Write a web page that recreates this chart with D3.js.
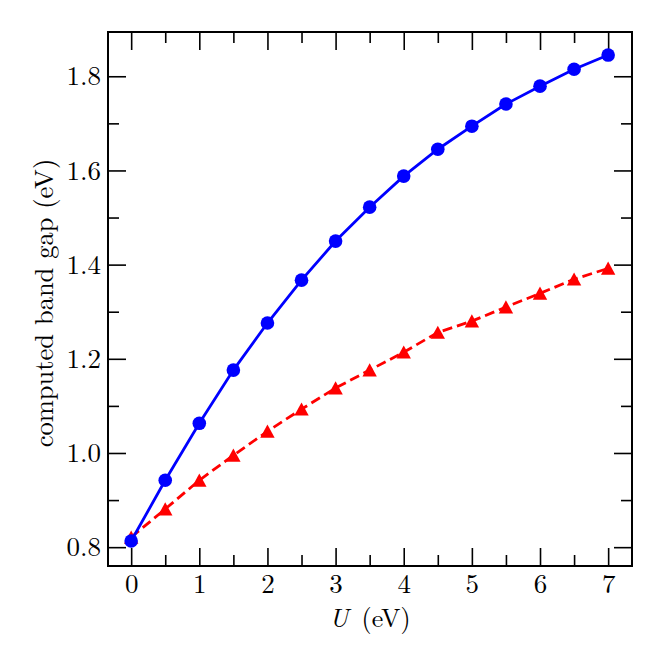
<!DOCTYPE html>
<html>
<head>
<meta charset="utf-8">
<script src="https://cdn.jsdelivr.net/npm/d3@7"></script>
<style>
  body { margin: 0; background: #fff; }
</style>
</head>
<body>
<div id="chart"></div>
<script>
const uValues = [0, 0.5, 1, 1.5, 2, 2.5, 3, 3.5, 4, 4.5, 5, 5.5, 6, 6.5, 7];
const gapCircles = [0.813, 0.942, 1.063, 1.176, 1.276, 1.367, 1.45, 1.522, 1.588, 1.645, 1.694, 1.741, 1.779, 1.815, 1.845];
const gapTriangles = [0.821, 0.881, 0.942, 0.995, 1.046, 1.093, 1.138, 1.176, 1.214, 1.256, 1.28, 1.31, 1.339, 1.369, 1.392];
const xTicks = [0, 1, 2, 3, 4, 5, 6, 7];
const xMinor = [0.5, 1.5, 2.5, 3.5, 4.5, 5.5, 6.5];
const yTicks = [0.8, 1.0, 1.2, 1.4, 1.6, 1.8];
const yMinor = [0.9, 1.1, 1.3, 1.5, 1.7];

const font = "'Latin Modern Roman', 'CMU Serif', 'Liberation Serif', serif";

let margin = {left: 108, right: 32, top: 32, bottom: 98};
let width = 664 - margin.left - margin.right,
    height = 664 - margin.top - margin.bottom;

let svg = d3.select("#chart")
    .append("svg")
    .attr("width", 664)
    .attr("height", 664);

let g = svg.append("g")
    .attr("transform", "translate(" + margin.left + ", " + margin.top + ")");

let x = d3.scaleLinear()
    .domain([-0.34, 7.35])
    .range([0, width]);

let y = d3.scaleLinear()
    .domain([0.76, 1.894])
    .range([height, 0]);

// inward ticks on all four sides
const major = 18, minor = 11;

let styleAxis = (sel) => {
    sel.attr("font-size", null).attr("font-family", null);
    sel.select(".domain").remove();
    sel.selectAll("line").attr("stroke", "#000").attr("stroke-width", 1.6);
    sel.selectAll("text")
        .style("font-family", font)
        .style("font-size", "27px")
        .attr("fill", "#000");
};

g.append("g")
    .attr("transform", "translate(0," + height + ")")
    .call(d3.axisBottom(x).tickValues(xTicks).tickSize(-major).tickPadding(8).tickFormat(d3.format("d")))
    .call(styleAxis);
g.append("g")
    .attr("transform", "translate(0," + height + ")")
    .call(d3.axisBottom(x).tickValues(xMinor).tickSize(-minor).tickFormat(""))
    .call(styleAxis);
g.append("g")
    .call(d3.axisTop(x).tickValues(xTicks).tickSize(-major).tickFormat(""))
    .call(styleAxis);
g.append("g")
    .call(d3.axisTop(x).tickValues(xMinor).tickSize(-minor).tickFormat(""))
    .call(styleAxis);

g.append("g")
    .call(d3.axisLeft(y).tickValues(yTicks).tickSize(-major).tickPadding(7).tickFormat(d3.format(".1f")))
    .call(styleAxis);
g.append("g")
    .call(d3.axisLeft(y).tickValues(yMinor).tickSize(-minor).tickFormat(""))
    .call(styleAxis);
g.append("g")
    .attr("transform", "translate(" + width + ",0)")
    .call(d3.axisRight(y).tickValues(yTicks).tickSize(-major).tickFormat(""))
    .call(styleAxis);
g.append("g")
    .attr("transform", "translate(" + width + ",0)")
    .call(d3.axisRight(y).tickValues(yMinor).tickSize(-minor).tickFormat(""))
    .call(styleAxis);

g.append("rect")
    .attr("width", width)
    .attr("height", height)
    .attr("fill", "none")
    .attr("stroke", "#000")
    .attr("stroke-width", 2);

let line = (vals) => d3.line()
    .x((d, i) => x(uValues[i]))
    .y(d => y(d))(vals);

// red dashed series with triangles
g.append("path")
    .attr("d", line(gapTriangles))
    .attr("fill", "none")
    .attr("stroke", "#ff0000")
    .attr("stroke-width", 2.8)
    .attr("stroke-dasharray", "10,5");

g.selectAll(".tri")
    .data(gapTriangles)
    .enter()
    .append("path")
    .attr("class", "tri")
    .attr("transform", (d, i) => "translate(" + x(uValues[i]) + "," + y(d) + ")")
    .attr("d", "M0,-6.8L7.2,6.4L-7.2,6.4Z")
    .attr("fill", "#ff0000");

// blue solid series with circles
g.append("path")
    .attr("d", line(gapCircles))
    .attr("fill", "none")
    .attr("stroke", "#0000ff")
    .attr("stroke-width", 2.8);

g.selectAll(".dot")
    .data(gapCircles)
    .enter()
    .append("circle")
    .attr("class", "dot")
    .attr("cx", (d, i) => x(uValues[i]))
    .attr("cy", d => y(d))
    .attr("r", 6.8)
    .attr("fill", "#0000ff");

// axis labels
let xl = g.append("text")
    .attr("x", width / 2)
    .attr("y", height + 61)
    .style("font-family", font)
    .style("font-size", "26px")
    .attr("text-anchor", "middle");
xl.append("tspan").style("font-style", "italic").text("U");
xl.append("tspan").text("\u2002(eV)");

g.append("text")
    .attr("transform", "rotate(-90)")
    .attr("x", -height / 2 - 4)
    .attr("y", -55)
    .style("font-family", font)
    .style("font-size", "26.5px")
    .attr("text-anchor", "middle")
    .text("computed band gap (eV)");
</script>
</body>
</html>
